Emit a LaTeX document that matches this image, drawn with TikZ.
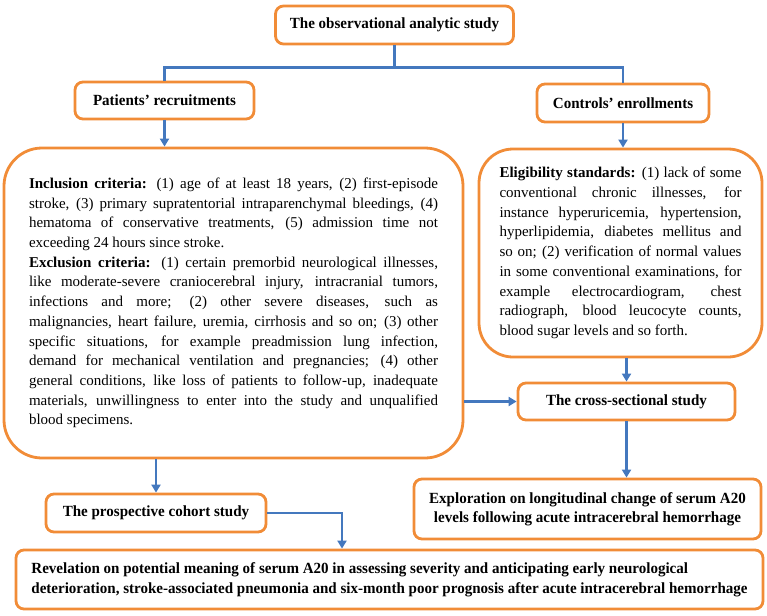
\documentclass[tikz,border=0pt]{standalone}
\usepackage{fontspec}
\setmainfont{Liberation Serif}
\newfontfamily\headfont{Liberation Serif}[FakeStretch=0.97]
\usepackage{tikz}
\usetikzlibrary{arrows.meta,positioning}
\definecolor{studyorange}{RGB}{241,140,55}
\definecolor{studyblue}{RGB}{68,120,190}

\begin{document}
\begin{tikzpicture}[
    x=1pt, y=-1pt,
    every node/.style={font=\fontsize{15}{19.7}\selectfont},
    stagebox/.style={rectangle, rounded corners=8pt, draw=studyorange, fill=white, line width=2.8pt, inner sep=0pt, align=center, font=\headfont\bfseries\fontsize{15.5}{19.5}\selectfont},
    critbox/.style={rectangle, rounded corners=38pt, draw=studyorange, fill=white, line width=2.8pt, inner sep=0pt, align=justify},
    arr/.style={-{Triangle[length=8pt,width=9pt]}, line width=2.8pt, draw=studyblue},
    branch/.style={line width=2.8pt, draw=studyblue}
]
\useasboundingbox (0,0) rectangle (767,615);

% Row 1: study and groups
\node[stagebox, minimum width=238pt, minimum height=38pt] (observ) at (394.5,25) {The observational analytic study};
\node[stagebox, minimum width=179pt, minimum height=37pt] (patients) at (164.5,100.5) {Patients’ recruitments};
\node[stagebox, minimum width=172pt, minimum height=38pt] (controls) at (623,103) {Controls’ enrollments};

% Row 2: criteria
\node[critbox, minimum width=459pt, minimum height=310pt, text width=409pt] (crit) at (233.5,303) {%
\textbf{Inclusion criteria:} (1) age of at least 18 years, (2) first-episode\linebreak
stroke, (3) primary supratentorial intraparenchymal bleedings, (4)\linebreak
hematoma of conservative treatments, (5) admission time not\linebreak
exceeding 24 hours since stroke.\\
\textbf{Exclusion criteria:} (1) certain premorbid neurological illnesses,\linebreak
like moderate-severe craniocerebral injury, intracranial tumors,\linebreak
infections and more; (2) other severe diseases, such as\linebreak
malignancies, heart failure, uremia, cirrhosis and so on; (3) other\linebreak
specific situations, for example preadmission lung infection,\linebreak
demand for mechanical ventilation and pregnancies; (4) other\linebreak
general conditions, like loss of patients to follow-up, inadequate\linebreak
materials, unwillingness to enter into the study and unqualified\linebreak
blood specimens.};
\node[critbox, rounded corners=34pt, minimum width=283pt, minimum height=208pt, text width=242pt] (elig) at (620.5,253) {%
\textbf{Eligibility standards:} (1) lack of some\linebreak
conventional chronic illnesses, for\linebreak
instance hyperuricemia, hypertension,\linebreak
hyperlipidemia, diabetes mellitus and\linebreak
so on; (2) verification of normal values\linebreak
in some conventional examinations, for\linebreak
example electrocardiogram, chest\linebreak
radiograph, blood leucocyte counts,\linebreak
blood sugar levels and so forth.};

% Row 3: studies and findings
\node[stagebox, minimum width=217pt, minimum height=37pt] (cross) at (626.5,401.5) {The cross-sectional study};
\node[stagebox, minimum width=347pt, minimum height=60pt] (explo) at (587.5,509) {Exploration on longitudinal change of serum A20\\levels following acute intracerebral hemorrhage};
\node[stagebox, minimum width=220pt, minimum height=38pt] (prosp) at (156,513) {The prospective cohort study};
\node[stagebox, minimum width=747pt, minimum height=59pt, align=left] (result) at (389.5,579.5) {Revelation on potential meaning of serum A20 in assessing severity and anticipating early neurological\\deterioration, stroke-associated pneumonia and six-month poor prognosis after acute intracerebral hemorrhage};
\coordinate (turn) at (342,0);

% Connections
\draw[branch] (observ.south) -- ++(0,22) -| (patients.north);
\draw[branch] (observ.south) -- ++(0,22) -| (controls.north);
\draw[arr] (patients.south) -- (patients.south |- crit.north);
\draw[arr] (controls.south) -- (controls.south |- elig.north);
\draw[arr] (cross.north |- elig.south) -- (cross.north);
\draw[arr] (crit.east |- cross.west) -- (cross.west);
\draw[arr] (cross.south) -- (cross.south |- explo.north);
\draw[arr] (crit.south -| prosp.north) -- (prosp.north);
\draw[arr] (prosp.east) -| (turn |- result.north);

\end{tikzpicture}
\end{document}
